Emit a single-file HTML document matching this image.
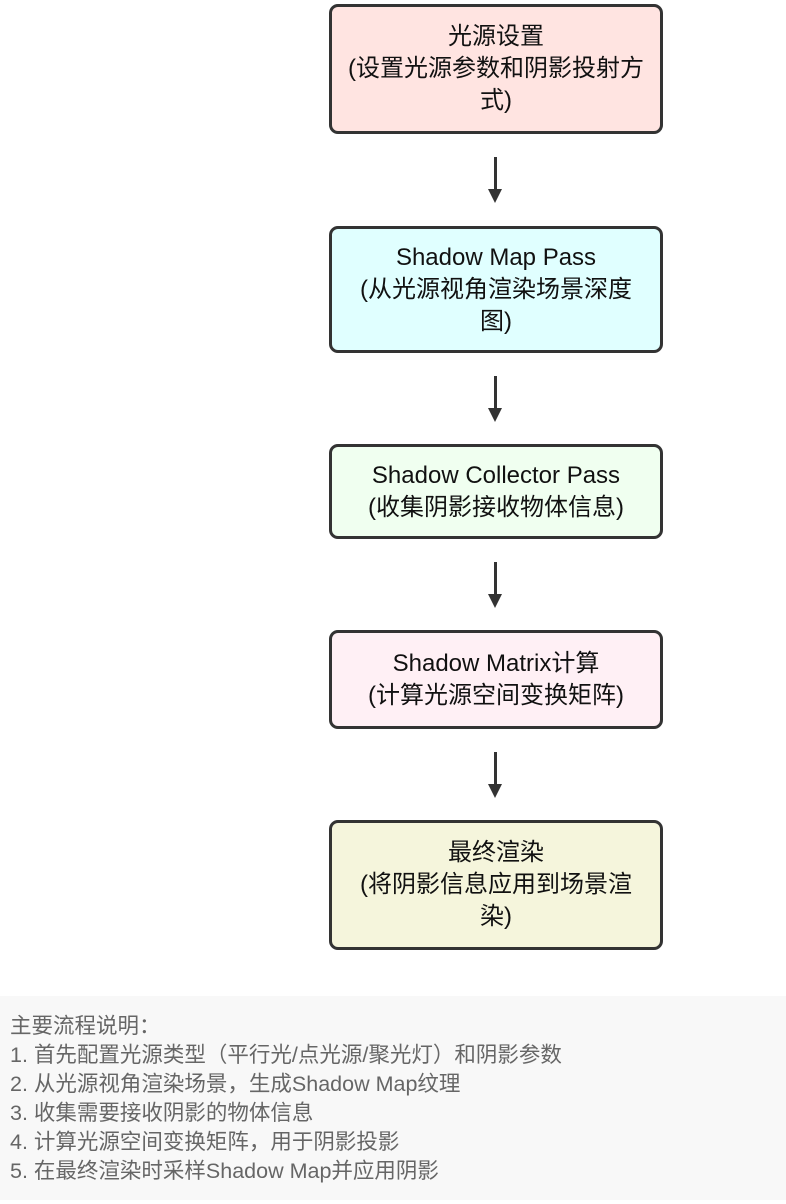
<!DOCTYPE html>
<html><head><meta charset="utf-8"><style>
html,body{margin:0;padding:0;background:#fff;width:786px;height:1204px;overflow:hidden;position:relative;font-family:"Liberation Sans","Noto Sans CJK SC",sans-serif}
.b{position:absolute;left:329px;width:334px;border:3px solid #333;border-radius:9px;box-sizing:border-box;display:flex;align-items:center;justify-content:center;text-align:center;font-size:24px;line-height:32px;color:#111;white-space:nowrap}
.a{position:absolute;left:494px;width:3px;background:#333}
.h{position:absolute;left:488px;width:0;height:0;border-left:7.5px solid transparent;border-right:7.5px solid transparent;border-top:14px solid #333}
.p{position:absolute;left:0;top:996px;width:786px;height:204px;background:#f8f8f8;color:#666;font-size:21.5px;line-height:29px;padding:16px 0 0 10px;box-sizing:border-box;white-space:nowrap}
</style></head><body>
<div class="b" style="top:4px;height:130px;background:#ffe4e1">光源设置<br>(设置光源参数和阴影投射方<br>式)</div>
<div class="a" style="top:157px;height:33px"></div><div class="h" style="top:189px"></div>
<div class="b" style="top:226px;height:127px;background:#e0ffff">Shadow Map Pass<br>(从光源视角渲染场景深度<br>图)</div>
<div class="a" style="top:376px;height:33px"></div><div class="h" style="top:408px"></div>
<div class="b" style="top:444px;height:95px;background:#f0fff0">Shadow Collector Pass<br>(收集阴影接收物体信息)</div>
<div class="a" style="top:562px;height:33px"></div><div class="h" style="top:594px"></div>
<div class="b" style="top:630px;height:99px;background:#fff0f5">Shadow Matrix计算<br>(计算光源空间变换矩阵)</div>
<div class="a" style="top:752px;height:33px"></div><div class="h" style="top:784px"></div>
<div class="b" style="top:820px;height:130px;background:#f5f5dc">最终渲染<br>(将阴影信息应用到场景渲<br>染)</div>
<div class="p">主要流程说明：<br>1. 首先配置光源类型（平行光/点光源/聚光灯）和阴影参数<br>2. 从光源视角渲染场景，生成Shadow Map纹理<br>3. 收集需要接收阴影的物体信息<br>4. 计算光源空间变换矩阵，用于阴影投影<br>5. 在最终渲染时采样Shadow Map并应用阴影</div>
</body></html>
